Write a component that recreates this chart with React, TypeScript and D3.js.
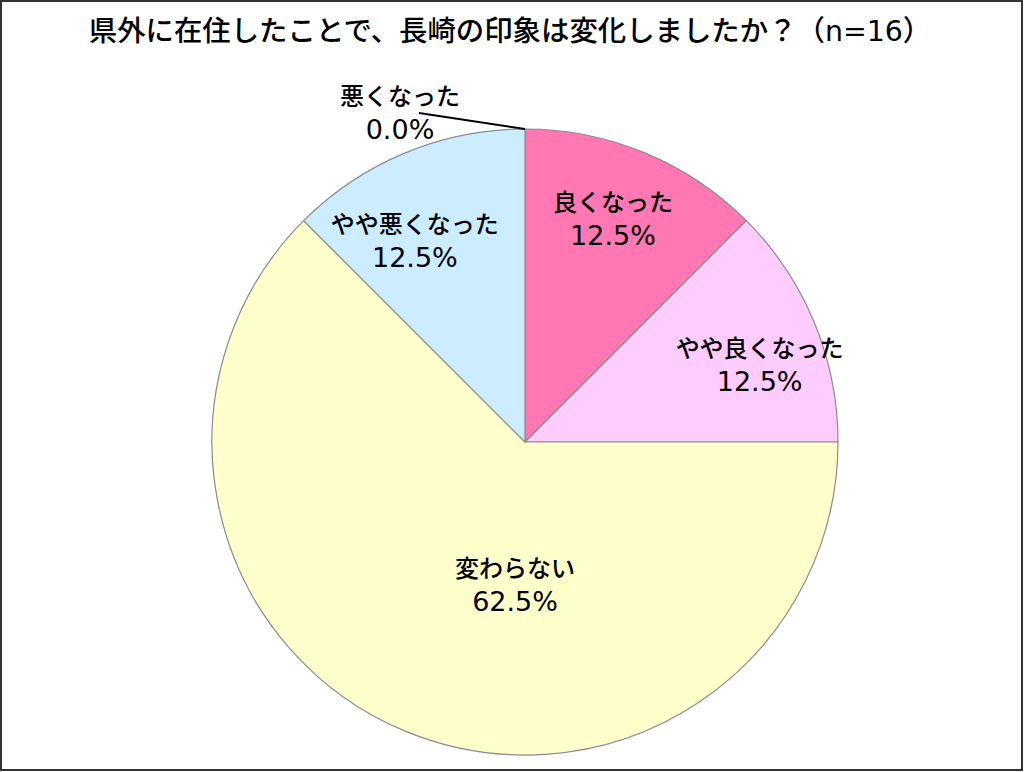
import React from "react";
import * as d3 from "d3";

const titleMain = "県外に在住したことで、長崎の印象は変化しましたか？（";
const titleN = "n=16";
const titleEnd = "）";
const categories = ["良くなった", "やや良くなった", "変わらない", "やや悪くなった", "悪くなった"];
const values = [12.5, 12.5, 62.5, 12.5, 0.0];
const colors = ["#FF78B4", "#FFCCFF", "#FFFFCC", "#CCECFF", "#FF0066"];

// label placement: polar offsets from the pie centre (degrees clockwise from top, fraction of radius)
const labelAngle = [21.4, 71.6, 184, 331.4, 0];
const labelRadius = [0.77, 0.79, 0.455, 0.735, 0];

const W = 1024;
const H = 772;
const cx = 525;
const cy = 442;
const R = 313;
const CJK = "'Noto Sans CJK JP', 'Noto Sans', sans-serif";
const LAT = "'DejaVu Sans', 'Noto Sans', sans-serif";

export default function App() {
  const pie = d3.pie<number>().sort(null).value((d) => d);
  const arcs = pie(values);
  const arc = d3.arc<d3.PieArcDatum<number>>().innerRadius(0).outerRadius(R);
  const fmt = d3.format(".1f");

  const labelPos = (i: number) => {
    const a = (labelAngle[i] * Math.PI) / 180;
    const r = labelRadius[i] * R;
    return [cx + r * Math.sin(a), cy - r * Math.cos(a)];
  };

  const zeroIdx = values.findIndex((v) => v === 0);
  const zeroArc = arcs[zeroIdx];
  const edge = d3.arc<any>().innerRadius(R).outerRadius(R).centroid(zeroArc);
  const zeroLabelX = 400;
  const zeroLabelY = 112;

  const label = (key: string | number, x: number, y: number, cat: string, v: number) => (
    <g key={key} textAnchor="middle" fill="#000">
      <text x={x} y={y - 7} fontFamily={CJK} fontSize={24} fontWeight={500}>
        {cat}
      </text>
      <text x={x} y={y + 27} fontFamily={LAT} fontSize={27}>
        {fmt(v)}%
      </text>
    </g>
  );

  return (
    <svg width={W} height={H} style={{ position: "absolute", left: 0, top: 0 }}>
      <rect x={0} y={0} width={W} height={H} fill="#fff" />
      <rect x={1} y={1} width={W - 3} height={H - 3} fill="none" stroke="#333" strokeWidth={2} />
      <text x={510} y={41} textAnchor="middle" fontSize={28.4} fontFamily={CJK} fontWeight={500} fill="#000">
        {titleMain}
        <tspan fontFamily={LAT} fontWeight={400}>{titleN}</tspan>
        {titleEnd}
      </text>
      <g transform={`translate(${cx},${cy})`}>
        {arcs.map((a, i) =>
          a.value > 0 ? (
            <path key={i} d={arc(a) || ""} fill={colors[i]} stroke="#8c8c8c" strokeWidth={1.2} />
          ) : null
        )}
      </g>
      {arcs.map((a, i) => {
        if (a.value === 0) return null;
        const [x, y] = labelPos(i);
        return label(i, x, y, categories[i], values[i]);
      })}
      <line
        x1={cx + edge[0]}
        y1={cy + edge[1]}
        x2={zeroLabelX + 19}
        y2={zeroLabelY + 1}
        stroke="#000"
        strokeWidth={2}
      />
      {label("zero", zeroLabelX, zeroLabelY, categories[zeroIdx], values[zeroIdx])}
    </svg>
  );
}
